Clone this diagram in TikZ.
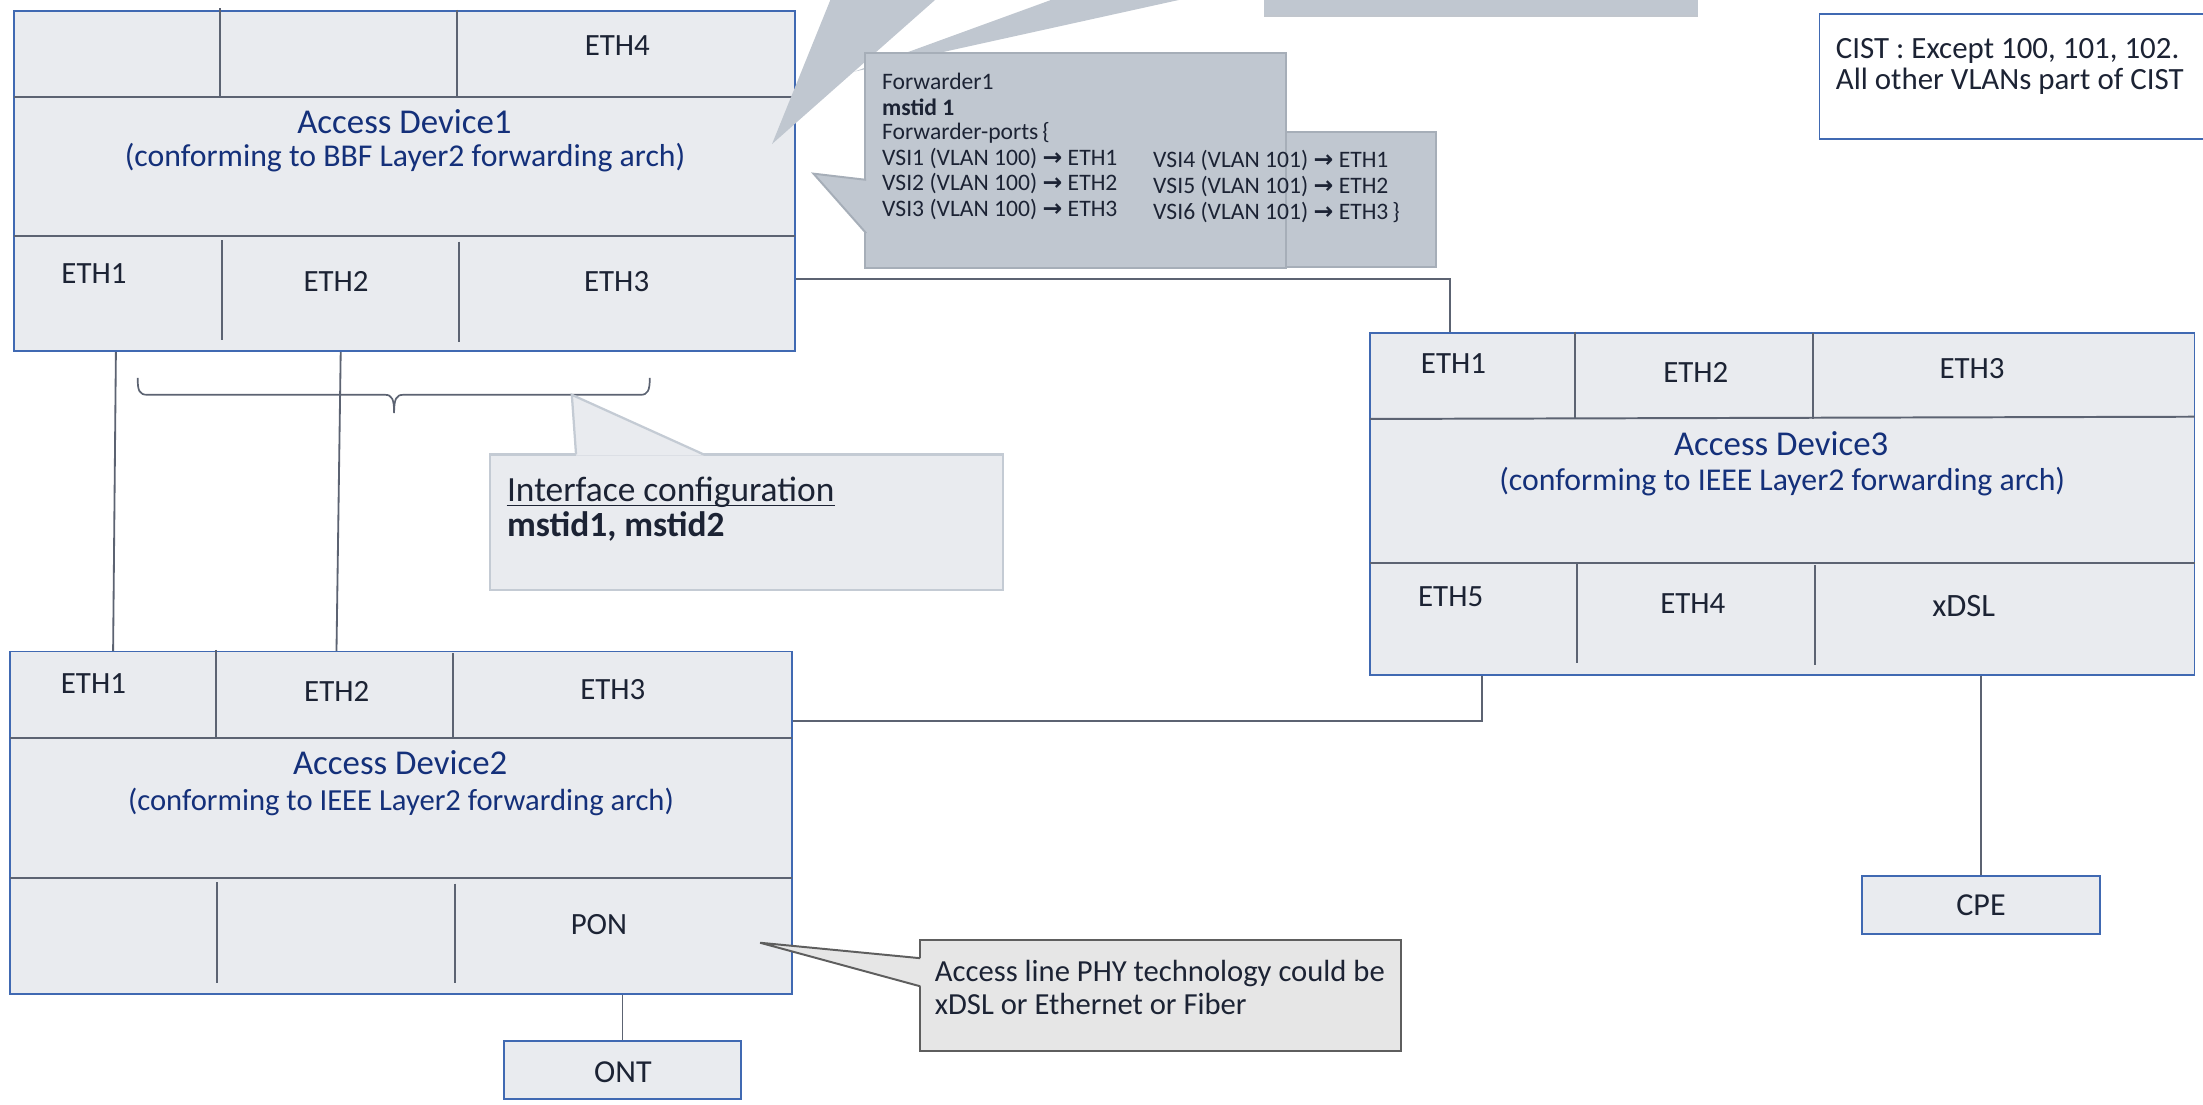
\documentclass[tikz,border=0pt]{standalone}
\usepackage{fontspec}
\setmainfont{Carlito}
\newfontfamily\arrowfont{DejaVu Sans}
\usetikzlibrary{fit}

\definecolor{devfill}{HTML}{E9EBEF}
\definecolor{devedge}{HTML}{4069B2}
\definecolor{divline}{HTML}{5C6372}
\definecolor{wirecol}{HTML}{5C6372}
\definecolor{notegray}{HTML}{C0C7D0}
\definecolor{noteedge}{HTML}{A6AEB8}
\definecolor{ifedge}{HTML}{C4CBD4}
\definecolor{phyfill}{HTML}{E6E6E6}
\definecolor{phyedge}{HTML}{5E5E5E}
\definecolor{inkdark}{HTML}{1C2334}
\definecolor{inkblue}{HTML}{14307A}

\newcommand\fwdarrow{{\arrowfont\bfseries\char"2192}}

\begin{document}
\begin{tikzpicture}[x=0.5pt,y=-0.5pt,
  devbox/.style={draw=devedge, fill=devfill, line width=0.6pt, inner sep=0pt},
  notebox/.style={draw=noteedge, fill=notegray, line width=0.7pt, inner sep=0pt},
  divider/.style={draw=divline, line width=0.7pt},
  wire/.style={draw=wirecol, line width=0.65pt},
  txt/.style={text=inkdark, inner sep=0pt},
  eth/.style={txt, font=\fontsize{11}{13}\selectfont},
  devtitle/.style={text=inkblue, inner sep=0pt, font=\fontsize{12.4}{14}\selectfont},
  devsub/.style={text=inkblue, inner sep=0pt, font=\fontsize{11.3}{13}\selectfont},
  fwdtext/.style={txt, anchor=base west, font=\fontsize{8.4}{9}\selectfont},
]
\useasboundingbox (0,0) rectangle (1568,785.8);

% ---------------- Access Device1 ----------------
\node[devbox, fit={(10,8) (566,250)}] (ad1) {};
\draw[divider] (10,68.8) -- (566,68.8);
\draw[divider] (10,168) -- (566,168);
\draw[divider] (156.3,6) -- (156.3,68.8);
\draw[divider] (325.5,7) -- (325.5,68.8);
\draw[divider] (157.8,171) -- (157.8,242);
\draw[divider] (327,172) -- (327,243.5);
\node[eth] (ad1eth4) at (439.4,32.4) {ETH4};
\node[devtitle] (ad1title) at (287.8,86.4) {Access Device1};
\node[devsub] (ad1sub) at (288.3,112.5) {(conforming to BBF Layer2 forwarding arch)};
\node[eth] (ad1eth1) at (66.9,194.5) {ETH1};
\node[eth] (ad1eth2) at (239.2,200.2) {ETH2};
\node[eth] (ad1eth3) at (438.9,200.5) {ETH3};

% ---------------- pointers coming from above ----------------
\fill[notegray] (748,0) -- (839,0) -- (608,51) -- cycle;
\fill[notegray] (591,0) -- (665.5,0) -- (549.5,102.5) -- cycle;
\fill[notegray] (900,0) rectangle (1208.5,11.4);
\draw[noteedge!70, line width=0.5pt] (900,11.4) -- (1208.5,11.4);

% ---------------- Forwarder1 callout ----------------
\node[notebox, fit={(880,94) (1022,190)}] (fwdext) {};
\node[notebox, fit={(616,38) (915,191)}] (fwd) {};
\fill[notegray] (617,128) -- (579,123.6) -- (617,166) -- cycle;
\draw[noteedge, line width=0.7pt] (616.5,128) -- (579,123.6) -- (616.5,166);
\node[fwdtext] (fw1) at (627.5,63.6) {Forwarder1};
\node[fwdtext, font=\fontsize{8.4}{9}\selectfont\bfseries] (fw2) at (627.5,81.9) {mstid 1};
\node[fwdtext] (fw3) at (627.5,99.6) {Forwarder-ports\,\{};
\node[fwdtext] (fw4) at (627.5,117.9) {VSI1 (VLAN 100) \fwdarrow{} ETH1};
\node[fwdtext] (fw5) at (627.5,135.9) {VSI2 (VLAN 100) \fwdarrow{} ETH2};
\node[fwdtext] (fw6) at (627.5,154.2) {VSI3 (VLAN 100) \fwdarrow{} ETH3};
\node[fwdtext] (fw7) at (820.4,119.3) {VSI4 (VLAN 101) \fwdarrow{} ETH1};
\node[fwdtext] (fw8) at (820.4,138.0) {VSI5 (VLAN 101) \fwdarrow{} ETH2};
\node[fwdtext] (fw9) at (820.4,156.4) {VSI6 (VLAN 101) \fwdarrow{} ETH3\,\}};

% ---------------- CIST note ----------------
\node[draw=devedge, fill=white, line width=0.6pt, inner sep=0pt, fit={(1295,10) (1580,99)}] (cist) {};
\node[txt, anchor=base west, font=\fontsize{11}{13}\selectfont] (cist1) at (1306.3,41.5) {CIST : Except 100, 101, 102.};
\node[txt, anchor=base west, font=\fontsize{11}{13}\selectfont] (cist2) at (1306.3,63.5) {All other VLANs part of CIST};

% ---------------- Access Device3 ----------------
\node[devbox, fit={(975,236.8) (1562,480.4)}] (ad3) {};
\draw[divider] (975,298.2) -- (1562,296.6);
\draw[divider] (975,400.5) -- (1562,400.5);
\draw[divider] (1120.8,236) -- (1120.8,298);
\draw[divider] (1290.4,237) -- (1290.4,298);
\draw[divider] (1122.4,401) -- (1122.4,472);
\draw[divider] (1292,402) -- (1292,473.3);
\node[eth] (ad3eth1) at (1034.5,258.8) {ETH1};
\node[eth] (ad3eth2) at (1207,264.8) {ETH2};
\node[eth] (ad3eth3) at (1403.6,262.5) {ETH3};
\node[devtitle] (ad3title) at (1267.7,316) {Access Device3};
\node[devsub] (ad3sub) at (1268.5,342.8) {(conforming to IEEE Layer2 forwarding arch)};
\node[eth] (ad3eth5) at (1032.5,424.7) {ETH5};
\node[eth] (ad3eth4) at (1204.9,429.8) {ETH4};
\node[eth, font=\fontsize{11.6}{13}\selectfont] (ad3xdsl) at (1397.7,431.6) {xDSL};

% ---------------- Access Device2 ----------------
\node[devbox, fit={(7,463.8) (563.7,707.5)}] (ad2) {};
\draw[divider] (7,525.4) -- (563.7,525.4);
\draw[divider] (7,624.7) -- (563.7,624.7);
\draw[divider] (153.4,462.6) -- (153.4,525.4);
\draw[divider] (322.6,465) -- (322.6,525.4);
\draw[divider] (154.7,628) -- (154.7,699.4);
\draw[divider] (324,629) -- (324,700);
\node[eth] (ad2eth1) at (66.5,486.4) {ETH1};
\node[eth] (ad2eth2) at (239.7,492) {ETH2};
\node[eth] (ad2eth3) at (436.2,490.5) {ETH3};
\node[devtitle] (ad2title) at (284.8,542.7) {Access Device2};
\node[devsub, font=\fontsize{10.9}{13}\selectfont] (ad2sub) at (285.4,570.6) {(conforming to IEEE Layer2 forwarding arch)};
\node[eth] (ad2pon) at (426.3,658.4) {PON};

% ---------------- end devices ----------------
\node[devbox, fit={(1325.3,623.5) (1494.7,665)}] (cpe) {};
\node[eth, font=\fontsize{11.4}{13}\selectfont] (cpetext) at (cpe.center) {CPE};
\node[devbox, fit={(358.8,740.7) (527.4,782.2)}] (ont) {};
\node[eth, font=\fontsize{11.4}{13}\selectfont] (onttext) at (443.4,763.4) {ONT};

% ---------------- connectors ----------------
\coordinate (xa) at (82.5,0);
\coordinate (xb) at (80.5,0);
\coordinate (xc) at (242.5,0);
\coordinate (xd) at (239.5,0);
\coordinate (ya) at (0,198.6);
\coordinate (xe) at (1032,0);
\coordinate (yb) at (0,513);
\coordinate (xf) at (1055,0);
\draw[wire] (ad1.south -| xa) -- (ad2.north -| xb);
\draw[wire] (ad1.south -| xc) -- (ad2.north -| xd);
\draw[wire] (ad1.east |- ya) -| (ad3.north -| xe);
\draw[wire] (ad2.east |- yb) -| (ad3.south -| xf);
\draw[wire] (ad3.south -| cpe) -- (cpe.north);
\draw[wire] (ad2.south -| ont) -- (ont.north);

% ---------------- port-group brace ----------------
\draw[draw=divline, line width=0.6pt]
  (98,269) .. controls (98,278) and (99,281) .. (105,281) -- (274,281)
  .. controls (279,281) and (280.5,284) .. (280.5,294)
  .. controls (280.5,284) and (282,281) .. (287,281) -- (456,281)
  .. controls (461,281) and (462.5,278) .. (462.5,269);

% ---------------- interface configuration callout ----------------
\node[draw=ifedge, fill=devfill, line width=0.8pt, inner sep=0pt, fit={(349,323.5) (714,420)}] (ifcfg) {};
\fill[devfill] (410,324.3) -- (407,281) -- (501,324.3) -- cycle;
\draw[ifedge, line width=0.8pt] (410,323.5) -- (407,281) -- (501,323.5);
\node[txt, anchor=base west, font=\fontsize{12.6}{14}\selectfont] (ift1) at (360.5,357) {Interface configuration};
\draw[inkdark, line width=0.5pt] ([yshift=-1.3pt]ift1.base west) -- ([yshift=-1.3pt]ift1.base east);
\node[txt, anchor=base west, font=\fontsize{12.6}{14}\selectfont\bfseries] (ift2) at (360.5,382) {mstid1, mstid2};

% ---------------- access line callout ----------------
\node[draw=phyedge, fill=phyfill, line width=0.7pt, inner sep=0pt, fit={(655,669) (997,748)}] (phy) {};
\fill[phyfill] (655.6,682) -- (541,671) -- (655.6,702) -- cycle;
\draw[phyedge, line width=0.7pt] (655,682) -- (541,671) -- (655,702);
\node[txt, anchor=base west, font=\fontsize{10.9}{13}\selectfont] (phy1) at (665,698.7) {Access line PHY technology could be};
\node[txt, anchor=base west, font=\fontsize{10.9}{13}\selectfont] (phy2) at (665,722) {xDSL or Ethernet or Fiber};

\end{tikzpicture}
\end{document}
